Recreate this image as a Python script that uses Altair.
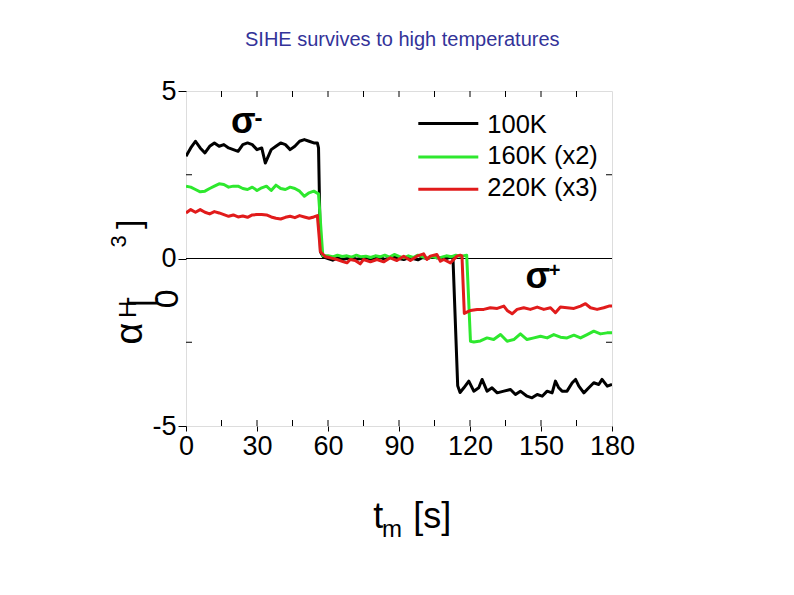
import altair as alt
import pandas as pd

TITLE = "SIHE survives to high temperatures"
x_ticks = [0, 30, 60, 90, 120, 150, 180]
y_ticks = [-5, 0, 5]
minor_x = [15, 30, 45, 60, 75, 90, 105, 120, 135, 150, 165]
minor_y = [-2.5, 2.5]

series_names = ["100K", "160K (x2)", "220K (x3)"]
series_colors = ["#000000", "#2ee82e", "#e11b1b"]

# ---- 100K (black) ----
black_t = [0, 2, 4, 6, 8, 10, 12, 14, 16, 18, 20, 22, 24, 26, 28, 30, 32, 33.5, 36, 38,
           40, 42, 44, 46, 48, 50, 52, 54, 55.5, 56.0,
           56.8, 58.0,
           60, 62, 64, 66, 68, 70, 72, 74, 76, 78, 80, 82, 84, 86, 88, 90, 92, 94, 96, 98,
           100, 102, 104, 106, 108, 110, 112, 112.8,
           114.8,
           115.8, 117.4, 119.5, 121.6, 123.7, 125.1, 127.2, 129.3, 131.5, 134.3, 137.1, 139.2,
           141.3, 144.1, 146.2, 148.4, 150.5, 152.6, 154.7, 156.1, 157.5, 158.9, 161.0, 163.2,
           164.6, 166.0, 168.1, 170.2, 172.3, 174.4, 175.8, 178.0, 180]
black_v = [3.05, 3.3, 3.5, 3.3, 3.15, 3.35, 3.45, 3.35, 3.4, 3.3, 3.25, 3.2, 3.4, 3.45, 3.4, 3.25, 3.3, 2.85, 3.25, 3.35,
           3.45, 3.4, 3.25, 3.35, 3.5, 3.55, 3.5, 3.45, 3.45, 3.3,
           0.2, 0.05,
           0.0, -0.05, 0.02, -0.03, 0.0, 0.03, -0.02, 0.0, 0.03, -0.02, 0.0, 0.04, -0.03, 0.02, 0.05, 0.0, -0.03, 0.02, 0.0, -0.04,
           0.03, 0.0, 0.05, 0.02, 0.03, 0.0, 0.05, 0.02,
           -3.8,
           -4.0, -3.86, -3.66, -3.96, -3.86, -3.61, -3.96, -3.86, -4.01, -3.96, -3.91, -4.06,
           -3.96, -4.11, -4.16, -4.06, -4.11, -3.96, -4.01, -3.66, -3.86, -3.96, -3.96, -3.71,
           -3.61, -3.81, -4.01, -3.86, -3.71, -3.76, -3.61, -3.81, -3.76]

# ---- 160K x2 (green) ----
green_t = [0, 2, 4, 6, 8, 10, 12, 14, 16, 18, 20, 22, 24, 26, 28, 30, 32, 34, 36, 38,
           40, 42, 44, 46, 48, 50, 52, 54, 56, 57.8,
           60, 62, 64, 66, 68, 70, 72, 74, 76, 78, 80, 82, 84, 86, 88, 90, 92, 94, 96, 98,
           100, 102, 104, 106, 108, 110, 112, 114, 116, 118.6,
           120.2, 121.6, 124.4, 127.2, 130.0, 132.9, 135.7, 138.5, 141.3, 144.1, 147.0, 149.8,
           152.6, 155.4, 158.2, 161.0, 163.9, 166.7, 169.5, 172.3, 175.1, 177.9, 180]
green_v = [2.16, 2.13, 2.06, 1.99, 2.01, 2.09, 2.16, 2.23, 2.21, 2.13, 2.16, 2.16, 2.09, 2.06, 2.13, 2.03, 2.11, 2.16, 2.03, 2.19,
           2.09, 2.06, 2.13, 2.09, 2.01, 1.86, 1.96, 2.01, 1.93, 0.08,
           0.08, 0.05, 0.1, 0.06, 0.08, 0.04, 0.1, 0.05, 0.07, 0.03, 0.08, 0.05, 0.1, 0.04, 0.12, 0.06, 0.02, 0.08, 0.03, 0.1,
           0.05, 0.0, 0.06, 0.02, 0.04, 0.08, 0.05, 0.1, 0.06, 0.1,
           -2.47, -2.49, -2.46, -2.37, -2.42, -2.27, -2.47, -2.42, -2.25, -2.42, -2.37, -2.32,
           -2.37, -2.27, -2.35, -2.37, -2.29, -2.37, -2.27, -2.17, -2.25, -2.22, -2.22]

# ---- 220K x3 (red) ----
red_t = [0, 2, 4, 6, 8, 10, 12, 14, 16, 18, 20, 22, 24, 26, 28, 30, 32, 34, 36, 38,
         40, 42, 44, 46, 48, 50, 52, 54, 55.5, 56.8, 57.5, 59.0,
         61.0, 63.8, 66.6, 68.0, 69.4, 71.5, 73.6, 75.0, 77.9, 80.7, 83.5, 86.3, 89.1,
         92.0, 94.8, 97.6, 100.4, 101.8, 103.2, 106.0, 107.5, 108.9, 111.7, 114.5, 115.9,
         116.6, 117.6,
         120.2, 123.0, 125.8, 128.6, 131.5, 134.3, 135.7, 137.8, 139.9, 142.7, 145.5, 148.4,
         151.2, 154.0, 156.1, 158.2, 161.0, 163.9, 166.7, 168.8, 170.9, 173.7, 176.5, 178.7, 180]
red_v = [1.36, 1.46, 1.38, 1.46, 1.38, 1.33, 1.40, 1.36, 1.31, 1.26, 1.30, 1.24, 1.27, 1.23, 1.30, 1.31, 1.31, 1.30, 1.24, 1.20,
         1.18, 1.23, 1.26, 1.22, 1.28, 1.24, 1.20, 1.24, 1.28, 0.2, 0.15, 0.05,
         0.02, -0.03, -0.10, -0.13, -0.03, -0.06, -0.16, -0.03, -0.10, -0.03, -0.10, 0.02, -0.06,
         0.07, -0.06, 0.07, 0.14, -0.03, 0.07, 0.12, -0.08, -0.03, -0.13, 0.07, 0.10,
         0.08, -1.64,
         -1.55, -1.52, -1.52, -1.47, -1.49, -1.42, -1.55, -1.65, -1.52, -1.47, -1.52, -1.45,
         -1.52, -1.47, -1.62, -1.45, -1.47, -1.49, -1.42, -1.35, -1.47, -1.52, -1.47, -1.42, -1.42]

W, H = 426, 335
FONT = "Liberation Sans"


def series_df(ts, vs):
    rows = [{"t": t, "v": v, "i": k} for k, (t, v) in enumerate(zip(ts, vs))]
    return pd.DataFrame(rows)


xs = alt.Scale(domain=[0, 180], nice=False, zero=False)
ys = alt.Scale(domain=[-5, 5], nice=False, zero=False)

x_axis = alt.Axis(values=x_ticks, title=None, labelFontSize=27, labelFont=FONT, labelColor="black",
                  tickColor="black", tickSize=5, tickWidth=1, domain=False, grid=False,
                  labelPadding=2, labelFlush=False)
y_axis = alt.Axis(values=y_ticks, title=None, labelFontSize=27, labelFont=FONT, labelColor="black",
                  tickColor="black", tickSize=8, tickWidth=1, domain=False, grid=False,
                  labelPadding=2, labelFlush=False,
                  labelExpr="replace(datum.label, '\u2212', '-')")


def X(field):
    return alt.X(field, scale=xs, axis=x_axis)


def Y(field):
    return alt.Y(field, scale=ys, axis=y_axis)


one = pd.DataFrame({"k": [0]})

# zero line
zero = alt.Chart(pd.DataFrame({"v": [0]})).mark_rule(color="black", strokeWidth=1).encode(
    y=Y("v:Q"), x=alt.value(0), x2=alt.value(W))

# inward minor ticks
mx = pd.DataFrame({"t": minor_x})
my = pd.DataFrame({"v": minor_y})
tick_bottom = alt.Chart(mx).mark_rule(color="black", strokeWidth=1).encode(
    x=X("t:Q"), y=alt.value(H), y2=alt.value(H - 6))
tick_top = alt.Chart(mx).mark_rule(color="black", strokeWidth=1).encode(
    x=X("t:Q"), y=alt.value(0), y2=alt.value(6))
tick_left = alt.Chart(my).mark_rule(color="black", strokeWidth=1).encode(
    y=Y("v:Q"), x=alt.value(0), x2=alt.value(6))
tick_right = alt.Chart(my).mark_rule(color="black", strokeWidth=1).encode(
    y=Y("v:Q"), x=alt.value(W - 6), x2=alt.value(W))

layers = []
for ts, vs, col in [(black_t, black_v, series_colors[0]),
                    (green_t, green_v, series_colors[1]),
                    (red_t, red_v, series_colors[2])]:
    layers.append(
        alt.Chart(series_df(ts, vs)).mark_line(color=col, strokeWidth=3, clip=True,
                                               strokeJoin="round").encode(
            x=X("t:Q"), y=Y("v:Q"), order="i:Q")
    )


def txt(s, x, y, size, **kw):
    opts = dict(font=FONT, color="black")
    opts.update(kw)
    return alt.Chart(one).mark_text(text=s, fontSize=size, **opts).encode(
        x=alt.value(x), y=alt.value(y))


# legend
leg_y_line = [32.6, 66.0, 98.3]
leg_y_text = [42.3, 72.8, 104.6]
legend_layers = []
for name, col, yl, yt in zip(series_names, series_colors, leg_y_line, leg_y_text):
    legend_layers.append(
        alt.Chart(one).mark_rule(color=col, strokeWidth=3).encode(
            x=alt.value(232.3), x2=alt.value(292.3), y=alt.value(yl)))
    legend_layers.append(txt(name, 301.3, yt, 25.5, align="left", baseline="alphabetic"))

annots = [
    # title
    txt(TITLE, 216.3, -50.7, 20, color="#333399", align="center", baseline="middle"),
    # sigma labels
    txt("σ", 57.3, 42.3, 36, fontWeight="bold", align="center", baseline="alphabetic"),
    txt("-", 72.5, 27.5, 24, fontWeight="bold", align="center", baseline="middle"),
    txt("σ", 351.8, 197.3, 36, fontWeight="bold", align="center", baseline="alphabetic"),
    txt("+", 368.5, 180.0, 20, fontWeight="bold", align="center", baseline="middle"),
    # x title
    txt("t", 187.3, 437.3, 36, align="left", baseline="alphabetic"),
    txt("m", 196.0, 446.3, 24, align="left", baseline="alphabetic"),
    txt("[s]", 227.3, 437.3, 36, align="left", baseline="alphabetic"),
    # y title pieces (rotated)
    txt("α", -54.9, 242.6, 38, angle=270, align="center", baseline="middle"),
    txt("H", -57.5, 218.3, 24, angle=270, align="center", baseline="middle"),
    txt("[", -44.7, 211.3, 34, angle=270, align="center", baseline="middle"),
    txt("0", -18.2, 207.8, 34, angle=270, align="center", baseline="middle"),
    txt("3", -66.7, 150.3, 22, angle=270, align="center", baseline="middle"),
    txt("]", -56.2, 133.3, 34, angle=270, align="center", baseline="middle"),
]

chart = alt.layer(
    zero, *layers, tick_bottom, tick_top, tick_left, tick_right,
    *legend_layers, *annots
).properties(
    width=W, height=H,
    autosize=alt.AutoSizeParams(type="none"),
    padding={"left": 178, "top": 83, "right": 170, "bottom": 140},
).configure_view(
    stroke="black", strokeWidth=1.5
).configure(background="white")

chart.save("out.html", embed_options={"renderer": "svg", "actions": False})
